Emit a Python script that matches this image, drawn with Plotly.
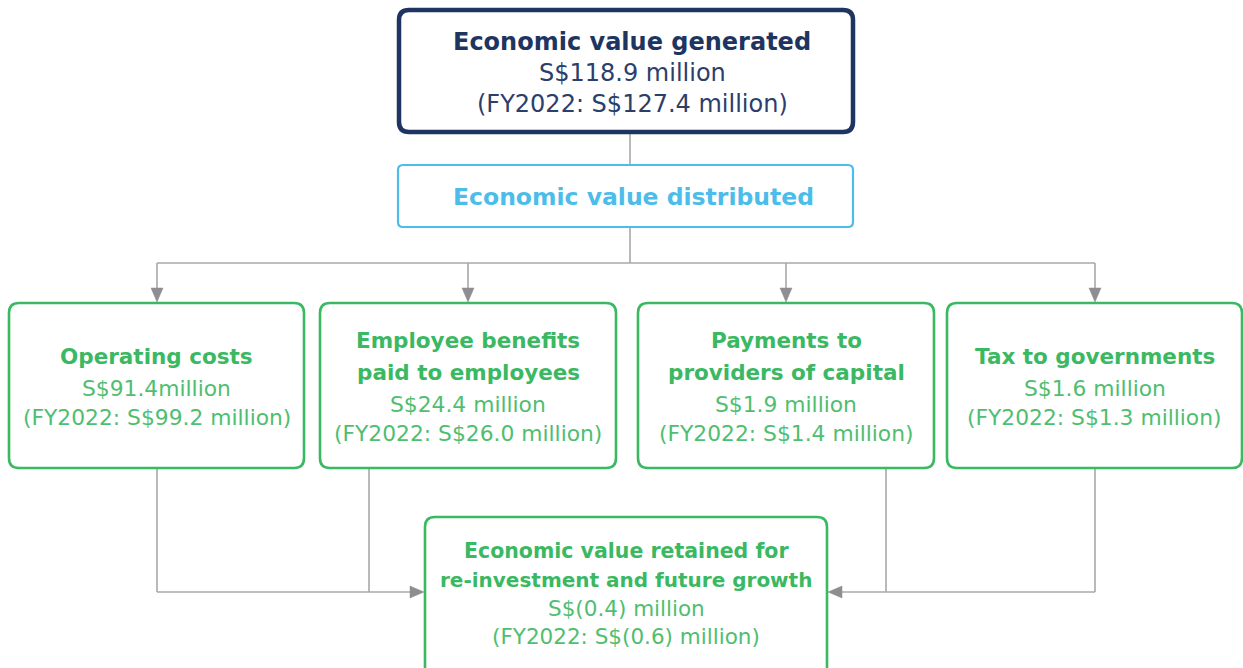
import plotly.graph_objects as go

# ---- data -------------------------------------------------------------
top_title = "Economic value generated"
top_value = "S$118.9 million"
top_prior = "(FY2022: S$127.4 million)"

mid_title = "Economic value distributed"

dist_titles = [
    ["Operating costs"],
    ["Employee benefits", "paid to employees"],
    ["Payments to", "providers of capital"],
    ["Tax to governments"],
]
dist_values = ["S$91.4million", "S$24.4 million", "S$1.9 million", "S$1.6 million"]
dist_priors = [
    "(FY2022: S$99.2 million)",
    "(FY2022: S$26.0 million)",
    "(FY2022: S$1.4 million)",
    "(FY2022: S$1.3 million)",
]

ret_titles = ["Economic value retained for", "re-investment and future growth"]
ret_value = "S$(0.4) million"
ret_prior = "(FY2022: S$(0.6) million)"

# ---- layout (pixel space) --------------------------------------------
W, H = 1243, 668
NAVY = "#1e3461"
NAVY_TXT = "#2c3e6a"
BLUE = "#4cbdea"
GREEN = "#3bb862"
GREEN_TXT = "#4fbe70"
GREY = "#a8a8aa"
ARROW = "#8e8e92"
FONT = "DejaVu Sans, Verdana, sans-serif"

dist_boxes = [(9, 304), (320, 616), (638, 934), (947, 1242)]
DY0, DY1 = 303, 468
feed_x = [157, 468, 786, 1095]
drop_x = [157, 369, 886, 1095]
BUS_Y = 263
RET_Y = 592
RET_BOX = (425, 517, 827, 690)

fig = go.Figure()
shapes, notes = [], []


def rrect(x0, y0, x1, y1, r=10):
    return (f"M{x0+r},{y0} L{x1-r},{y0} Q{x1},{y0} {x1},{y0+r} "
            f"L{x1},{y1-r} Q{x1},{y1} {x1-r},{y1} L{x0+r},{y1} "
            f"Q{x0},{y1} {x0},{y1-r} L{x0},{y0+r} Q{x0},{y0} {x0+r},{y0} Z")


def box(x0, y0, x1, y1, color, width, r=10):
    shapes.append(dict(type="path", path=rrect(x0, y0, x1, y1, r),
                       line=dict(color=color, width=width), layer="above"))


def line(x0, y0, x1, y1):
    shapes.append(dict(type="line", x0=x0, y0=y0, x1=x1, y1=y1,
                       line=dict(color=GREY, width=1.6), layer="below"))


def tri(points):
    p = "M" + " L".join(f"{a},{b}" for a, b in points) + " Z"
    shapes.append(dict(type="path", path=p, fillcolor=ARROW,
                       line=dict(color=ARROW, width=0.5), layer="above"))


def text(x, y, s, color, size=22, bold=False):
    notes.append(dict(x=x, y=y, xref="x", yref="y", showarrow=False,
                      text=f"<b>{s}</b>" if bold else s,
                      font=dict(family=FONT, size=size, color=color),
                      xanchor="center", yanchor="middle"))


# connectors
line(630, 133, 630, 165)
line(630, 227, 630, BUS_Y)
line(feed_x[0], BUS_Y, feed_x[-1], BUS_Y)
for fx in feed_x:
    line(fx, BUS_Y, fx, DY0 - 12)
    tri([(fx - 6, DY0 - 15), (fx + 6, DY0 - 15), (fx, DY0 - 1)])
for dx in drop_x:
    line(dx, DY1, dx, RET_Y)
line(drop_x[0], RET_Y, RET_BOX[0] - 12, RET_Y)
tri([(RET_BOX[0] - 15, RET_Y - 6), (RET_BOX[0] - 15, RET_Y + 6), (RET_BOX[0] - 1, RET_Y)])
line(drop_x[-1], RET_Y, RET_BOX[2] + 12, RET_Y)
tri([(RET_BOX[2] + 15, RET_Y - 6), (RET_BOX[2] + 15, RET_Y + 6), (RET_BOX[2] + 1, RET_Y)])

# top box
box(399, 10, 853, 132, NAVY, 4.5)
text(632, 42, top_title, NAVY, 24, True)
text(632, 73, top_value, NAVY_TXT, 24)
text(632, 104, top_prior, NAVY_TXT, 24)

# distributed box
box(398, 165, 853, 227, BLUE, 2.2, 5)
text(633, 197, mid_title, BLUE, 23.5, True)

# distribution boxes
for (x0, x1), titles, val, prior in zip(dist_boxes, dist_titles, dist_values, dist_priors):
    box(x0, DY0, x1, DY1, GREEN, 2.6)
    cx = (x0 + x1) / 2
    y = 356 if len(titles) == 1 else 340
    for t in titles:
        text(cx, y, t, GREEN, 21.5, True)
        y += 32
    text(cx, y, val, GREEN_TXT, 21.8)
    text(cx, y + 29, prior, GREEN_TXT, 21.8)

# retained box
box(*RET_BOX, GREEN, 2.6)
rcx = (RET_BOX[0] + RET_BOX[2]) / 2
text(rcx, 551, ret_titles[0], GREEN, 20.5, True)
text(rcx, 580, ret_titles[1], GREEN, 20, True)
text(rcx, 608, ret_value, GREEN_TXT, 21.5)
text(rcx, 636, ret_prior, GREEN_TXT, 21.5)

fig.update_layout(
    width=W, height=H,
    margin=dict(l=0, r=0, t=0, b=0),
    paper_bgcolor="white", plot_bgcolor="white",
    xaxis=dict(range=[0, W], visible=False, fixedrange=True),
    yaxis=dict(range=[H, 0], visible=False, fixedrange=True),
    shapes=shapes, annotations=notes, showlegend=False,
)

fig.write_html("out.html", config={"displayModeBar": False},
               post_script="document.body.style.margin='0px';")
